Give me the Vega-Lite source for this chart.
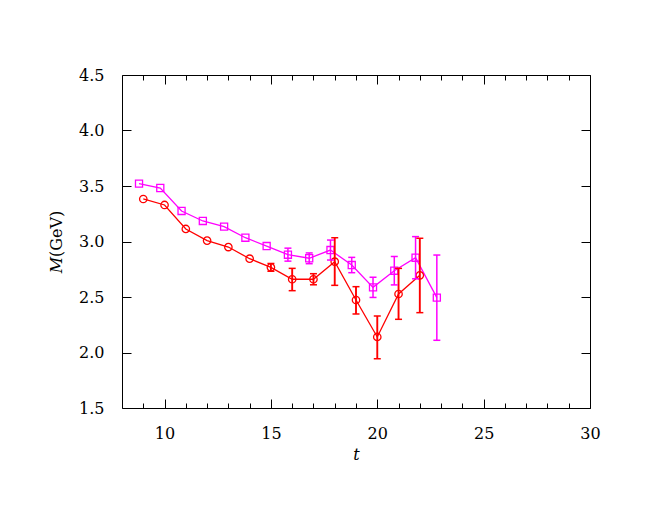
{
  "$schema": "https://vega.github.io/schema/vega-lite/v6.json",
  "width": 468,
  "height": 333,
  "autosize": {"type": "none"},
  "padding": {"left": 122, "top": 75, "right": 64, "bottom": 97},
  "background": "white",
  "config": {
    "view": {"stroke": "#000", "strokeWidth": 1},
    "axis": {
      "domain": false, "grid": false, "tickColor": "#000", "tickWidth": 1,
      "labelFont": "DejaVu Serif", "labelFontSize": 16, "labelColor": "#000",
      "titleFont": "DejaVu Serif", "titleFontSize": 16, "titleColor": "#000", "titleFontWeight": "normal"
    }
  },
  "data": {
    "values": [
      {"series": "magenta", "t": 8.8, "M": 3.521},
      {"series": "magenta", "t": 9.8, "M": 3.482},
      {"series": "magenta", "t": 10.8, "M": 3.275},
      {"series": "magenta", "t": 11.8, "M": 3.185},
      {"series": "magenta", "t": 12.8, "M": 3.134},
      {"series": "magenta", "t": 13.8, "M": 3.034},
      {"series": "magenta", "t": 14.8, "M": 2.959},
      {"series": "magenta", "t": 15.8, "M": 2.881, "lo": 2.823, "hi": 2.940},
      {"series": "magenta", "t": 16.8, "M": 2.849, "lo": 2.800, "hi": 2.897},
      {"series": "magenta", "t": 17.8, "M": 2.923, "lo": 2.833, "hi": 3.013},
      {"series": "magenta", "t": 18.8, "M": 2.788, "lo": 2.719, "hi": 2.857},
      {"series": "magenta", "t": 19.8, "M": 2.587, "lo": 2.496, "hi": 2.678},
      {"series": "magenta", "t": 20.8, "M": 2.737, "lo": 2.609, "hi": 2.865},
      {"series": "magenta", "t": 21.8, "M": 2.854, "lo": 2.664, "hi": 3.044},
      {"series": "magenta", "t": 22.8, "M": 2.494, "lo": 2.110, "hi": 2.878},
      {"series": "red", "t": 9, "M": 3.383},
      {"series": "red", "t": 10, "M": 3.329},
      {"series": "red", "t": 11, "M": 3.113},
      {"series": "red", "t": 12, "M": 3.008},
      {"series": "red", "t": 13, "M": 2.950},
      {"series": "red", "t": 14, "M": 2.845},
      {"series": "red", "t": 15, "M": 2.767, "lo": 2.732, "hi": 2.802},
      {"series": "red", "t": 16, "M": 2.660, "lo": 2.557, "hi": 2.758},
      {"series": "red", "t": 17, "M": 2.660, "lo": 2.610, "hi": 2.710},
      {"series": "red", "t": 18, "M": 2.818, "lo": 2.605, "hi": 3.034},
      {"series": "red", "t": 19, "M": 2.473, "lo": 2.347, "hi": 2.593},
      {"series": "red", "t": 20, "M": 2.140, "lo": 1.944, "hi": 2.329},
      {"series": "red", "t": 21, "M": 2.527, "lo": 2.299, "hi": 2.758},
      {"series": "red", "t": 22, "M": 2.695, "lo": 2.359, "hi": 3.029}
    ]
  },
  "resolve": {"axis": {"x": "independent", "y": "independent"}},
  "layer": [
    {
      "mark": {"type": "line", "strokeWidth": 1.3},
      "encoding": {
        "x": {"field": "t", "type": "quantitative", "scale": {"domain": [8, 30], "nice": false, "zero": false},
          "axis": {"orient": "bottom", "values": [10, 15, 20, 25, 30], "tickSize": -9, "labelPadding": 26, "labelFlush": false, "title": "t", "titleFontStyle": "italic", "titlePadding": 5}},
        "y": {"field": "M", "type": "quantitative", "scale": {"domain": [1.5, 4.5], "nice": false, "zero": false},
          "axis": {"orient": "left", "values": [1.5, 2, 2.5, 3, 3.5, 4, 4.5], "format": ".1f", "tickSize": -9, "labelPadding": 27, "labelFlush": false, "title": "𝑀(GeV)", "titlePadding": 14}},
        "color": {"field": "series", "type": "nominal", "scale": {"domain": ["magenta", "red"], "range": ["#ff00ff", "#ff0000"]}, "legend": null}
      }
    },
    {
      "mark": {"type": "point", "filled": false, "strokeWidth": 1.3, "opacity": 1},
      "encoding": {
        "x": {"field": "t", "type": "quantitative",
          "axis": {"orient": "top", "values": [10, 15, 20, 25, 30], "tickSize": -9, "labels": false, "title": null}},
        "y": {"field": "M", "type": "quantitative",
          "axis": {"orient": "right", "values": [1.5, 2, 2.5, 3, 3.5, 4, 4.5], "tickSize": -9, "labels": false, "title": null}},
        "color": {"field": "series", "type": "nominal", "legend": null},
        "shape": {"field": "series", "type": "nominal", "scale": {"domain": ["magenta", "red"], "range": ["square", "circle"]}, "legend": null},
        "size": {"field": "series", "type": "nominal", "scale": {"domain": ["magenta", "red"], "range": [50, 55]}, "legend": null}
      }
    },
    {
      "transform": [{"filter": "isValid(datum.lo)"}],
      "mark": {"type": "rule"},
      "encoding": {
        "x": {"field": "t", "type": "quantitative",
          "axis": {"orient": "bottom", "values": [9, 10, 11, 12, 13, 14, 15, 16, 17, 18, 19, 20, 21, 22, 23, 24, 25, 26, 27, 28, 29], "tickSize": -5, "labels": false, "title": null}},
        "y": {"field": "lo", "type": "quantitative", "axis": null},
        "y2": {"field": "hi"},
        "color": {"field": "series", "type": "nominal", "legend": null},
        "strokeWidth": {"field": "series", "type": "nominal", "scale": {"domain": ["magenta", "red"], "range": [1.5, 1.9]}, "legend": null}
      }
    },
    {
      "transform": [{"filter": "isValid(datum.lo)"}],
      "mark": {"type": "tick", "orient": "horizontal", "size": 7, "thickness": 1.5, "opacity": 1},
      "encoding": {
        "x": {"field": "t", "type": "quantitative",
          "axis": {"orient": "top", "values": [9, 10, 11, 12, 13, 14, 15, 16, 17, 18, 19, 20, 21, 22, 23, 24, 25, 26, 27, 28, 29], "tickSize": -5, "labels": false, "title": null}},
        "y": {"field": "lo", "type": "quantitative", "axis": null},
        "color": {"field": "series", "type": "nominal", "legend": null}
      }
    },
    {
      "transform": [{"filter": "isValid(datum.hi)"}],
      "mark": {"type": "tick", "orient": "horizontal", "size": 7, "thickness": 1.5, "opacity": 1},
      "encoding": {
        "x": {"field": "t", "type": "quantitative", "axis": null},
        "y": {"field": "hi", "type": "quantitative", "axis": null},
        "color": {"field": "series", "type": "nominal", "legend": null}
      }
    }
  ]
}
